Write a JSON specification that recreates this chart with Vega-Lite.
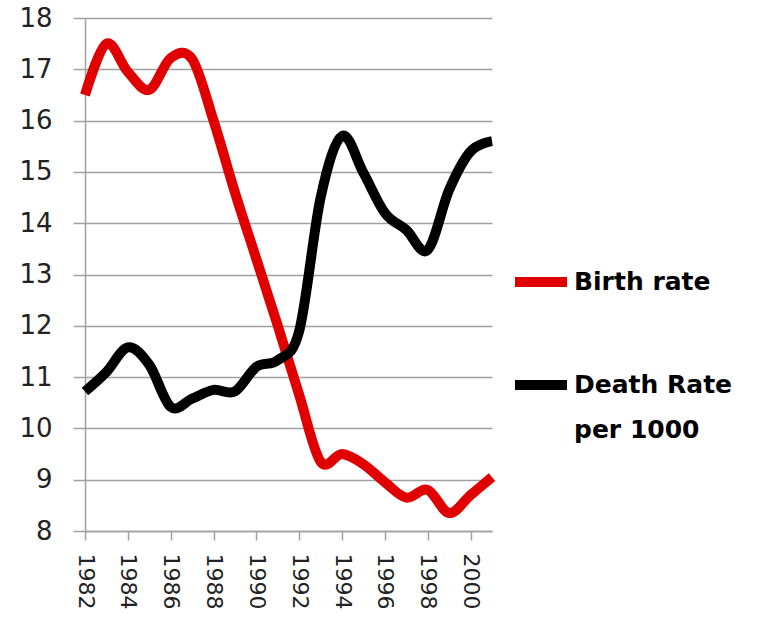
{
  "$schema": "https://vega.github.io/schema/vega-lite/v6.json",
  "width": 407,
  "height": 513,
  "autosize": "none",
  "padding": {"left": 85, "top": 18, "right": 288, "bottom": 101},
  "background": "white",
  "data": {
    "values": [
      {"year": 1982, "series": "Birth rate", "value": 16.5},
      {"year": 1983, "series": "Birth rate", "value": 17.5},
      {"year": 1984, "series": "Birth rate", "value": 16.95},
      {"year": 1985, "series": "Birth rate", "value": 16.6},
      {"year": 1986, "series": "Birth rate", "value": 17.22},
      {"year": 1987, "series": "Birth rate", "value": 17.2},
      {"year": 1988, "series": "Birth rate", "value": 16.0},
      {"year": 1989, "series": "Birth rate", "value": 14.6},
      {"year": 1990, "series": "Birth rate", "value": 13.3},
      {"year": 1991, "series": "Birth rate", "value": 12.0},
      {"year": 1992, "series": "Birth rate", "value": 10.65},
      {"year": 1993, "series": "Birth rate", "value": 9.35},
      {"year": 1994, "series": "Birth rate", "value": 9.5},
      {"year": 1995, "series": "Birth rate", "value": 9.3},
      {"year": 1996, "series": "Birth rate", "value": 8.95},
      {"year": 1997, "series": "Birth rate", "value": 8.65},
      {"year": 1998, "series": "Birth rate", "value": 8.8},
      {"year": 1999, "series": "Birth rate", "value": 8.35},
      {"year": 2000, "series": "Birth rate", "value": 8.7},
      {"year": 2001, "series": "Birth rate", "value": 9.05},
      {"year": 1982, "series": "Death Rate per 1000", "value": 10.72},
      {"year": 1983, "series": "Death Rate per 1000", "value": 11.1},
      {"year": 1984, "series": "Death Rate per 1000", "value": 11.58},
      {"year": 1985, "series": "Death Rate per 1000", "value": 11.24},
      {"year": 1986, "series": "Death Rate per 1000", "value": 10.42},
      {"year": 1987, "series": "Death Rate per 1000", "value": 10.58},
      {"year": 1988, "series": "Death Rate per 1000", "value": 10.75},
      {"year": 1989, "series": "Death Rate per 1000", "value": 10.72},
      {"year": 1990, "series": "Death Rate per 1000", "value": 11.2},
      {"year": 1991, "series": "Death Rate per 1000", "value": 11.33},
      {"year": 1992, "series": "Death Rate per 1000", "value": 11.9},
      {"year": 1993, "series": "Death Rate per 1000", "value": 14.5},
      {"year": 1994, "series": "Death Rate per 1000", "value": 15.7},
      {"year": 1995, "series": "Death Rate per 1000", "value": 14.98},
      {"year": 1996, "series": "Death Rate per 1000", "value": 14.2},
      {"year": 1997, "series": "Death Rate per 1000", "value": 13.87},
      {"year": 1998, "series": "Death Rate per 1000", "value": 13.48},
      {"year": 1999, "series": "Death Rate per 1000", "value": 14.65},
      {"year": 2000, "series": "Death Rate per 1000", "value": 15.4},
      {"year": 2001, "series": "Death Rate per 1000", "value": 15.6}
    ]
  },
  "mark": {"type": "line", "strokeWidth": 10, "interpolate": "cardinal", "strokeJoin": "round", "clip": false},
  "encoding": {
    "x": {
      "field": "year",
      "type": "quantitative",
      "scale": {"domain": [1982, 2001], "nice": false, "zero": false},
      "axis": {
        "title": null,
        "values": [1982, 1984, 1986, 1988, 1990, 1992, 1994, 1996, 1998, 2000],
        "format": "d",
        "labelAngle": 90,
        "labelAlign": "left",
        "labelBaseline": "middle",
        "labelFont": "DejaVu Sans",
        "labelFontSize": 22,
        "labelColor": "#222222",
        "labelPadding": 13,
        "tickSize": 9,
        "tickColor": "#a0a0a0",
        "tickWidth": 1.5,
        "domainColor": "#a0a0a0",
        "domainWidth": 1.5,
        "grid": false,
        "labelOverlap": false
      }
    },
    "y": {
      "field": "value",
      "type": "quantitative",
      "scale": {"domain": [8, 18], "nice": false, "zero": false},
      "axis": {
        "title": null,
        "values": [8, 9, 10, 11, 12, 13, 14, 15, 16, 17, 18],
        "labelFont": "DejaVu Sans",
        "labelFontSize": 26,
        "labelColor": "#222222",
        "labelPadding": 21,
        "tickSize": 12,
        "tickColor": "#a0a0a0",
        "tickWidth": 1.5,
        "domainColor": "#a0a0a0",
        "domainWidth": 1.5,
        "grid": true,
        "gridColor": "#a0a0a0",
        "gridWidth": 1.5,
        "labelOverlap": false
      }
    },
    "color": {
      "field": "series",
      "type": "nominal",
      "scale": {"domain": ["Birth rate", "Death Rate per 1000"], "range": ["#e00000", "#000000"]},
      "legend": {
        "title": null,
        "orient": "none",
        "legendX": 425,
        "legendY": 233,
        "symbolType": "stroke",
        "symbolSize": 2704,
        "symbolStrokeWidth": 10,
        "labelFont": "DejaVu Sans",
        "labelFontSize": 25,
        "labelFontWeight": "bold",
        "labelColor": "#000000",
        "labelOffset": 2,
        "labelLimit": 300,
        "rowPadding": 52,
        "labelExpr": "datum.label == 'Death Rate per 1000' ? ['Death Rate', 'per 1000'] : datum.label",
        "encode": {"labels": {"update": {"lineHeight": {"value": 45}}}}
      }
    }
  },
  "config": {"view": {"stroke": null}}
}
